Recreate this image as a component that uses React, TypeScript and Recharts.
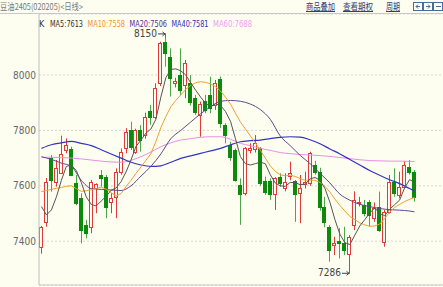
import { ComposedChart, Bar, Line, XAxis, YAxis, CartesianGrid, ReferenceLine, ReferenceDot } from "recharts";

// daily candles, oldest first
const opens = [
  7380, 7470, 7699, 7615, 7647, 7729, 7732, 7611, 7557, 7458,
  7450, 7591, 7639, 7633, 7543, 7561, 7649, 7735, 7801, 7723,
  7801, 7783, 7871, 7847, 7970, 8120, 8066, 7972, 8000, 7964,
  7970, 7916, 7856, 7907, 7928, 7892, 7984, 7820, 7747, 7729,
  7603, 7573, 7729, 7732, 7735, 7618, 7618, 7570, 7631, 7591,
  7635, 7618, 7573, 7605, 7609, 7675, 7651, 7525, 7450, 7386,
  7401, 7394, 7354, 7458, 7537, 7531, 7543, 7483, 7525, 7398,
  7507, 7615, 7567, 7597, 7669, 7651,
];
const highs = [
  7455, 7628, 7711, 7693, 7781, 7771, 7741, 7639, 7573, 7477,
  7621, 7609, 7657, 7639, 7573, 7663, 7735, 7808, 7831, 7806,
  7819, 7864, 7892, 7970, 8120, 8150, 8096, 7990, 8096, 8054,
  8000, 7928, 7904, 7928, 7994, 7982, 7994, 7826, 7759, 7735,
  7627, 7740, 7753, 7783, 7740, 7633, 7627, 7631, 7645, 7645,
  7687, 7621, 7639, 7651, 7723, 7690, 7665, 7560, 7458, 7416,
  7447, 7452, 7422, 7580, 7560, 7549, 7549, 7540, 7579, 7513,
  7639, 7663, 7651, 7690, 7693, 7657,
];
const lows = [
  7355, 7452, 7579, 7597, 7645, 7717, 7635, 7530, 7392, 7410,
  7429, 7501, 7597, 7483, 7501, 7483, 7640, 7717, 7729, 7715,
  7723, 7770, 7820, 7840, 7960, 8030, 7922, 7955, 7928, 7916,
  7890, 7856, 7777, 7862, 7862, 7874, 7808, 7753, 7690, 7615,
  7459, 7565, 7717, 7720, 7600, 7567, 7549, 7513, 7597, 7580,
  7620, 7470, 7465, 7590, 7600, 7640, 7510, 7450, 7326, 7350,
  7338, 7350, 7286, 7440, 7525, 7490, 7453, 7470, 7434, 7380,
  7500, 7560, 7555, 7590, 7640, 7543,
];
const closes = [
  7450, 7615, 7621, 7663, 7714, 7747, 7639, 7539, 7440, 7431,
  7615, 7605, 7627, 7525, 7557, 7649, 7723, 7795, 7741, 7801,
  7765, 7850, 7847, 7952, 8114, 8080, 7988, 7978, 7946, 8042,
  7904, 7868, 7895, 7874, 7880, 7970, 7826, 7783, 7705, 7621,
  7570, 7735, 7735, 7756, 7611, 7579, 7570, 7627, 7609, 7615,
  7647, 7570, 7591, 7615, 7717, 7651, 7525, 7470, 7368, 7392,
  7392, 7370, 7416, 7549, 7543, 7501, 7494, 7519, 7440, 7506,
  7615, 7575, 7597, 7675, 7651, 7561,
];

// moving averages
const ma5 = [
  7525, 7495, 7513, 7560, 7620, 7670, 7675, 7655, 7612, 7560,
  7533, 7527, 7545, 7562, 7584, 7592, 7615, 7650, 7693, 7742,
  7765, 7790, 7805, 7840, 7920, 7990, 8020, 8022, 8015, 8000,
  7972, 7945, 7920, 7898, 7885, 7896, 7890, 7868, 7833, 7770,
  7705, 7680, 7675, 7680, 7685, 7680, 7640, 7610, 7600, 7598,
  7612, 7612, 7604, 7606, 7625, 7630, 7620, 7590, 7540, 7478,
  7425, 7395, 7388, 7422, 7455, 7478, 7502, 7520, 7500, 7492,
  7515, 7532, 7548, 7592, 7622, 7613,
];
const ma10 = [
  7579, 7583, 7587, 7591, 7594, 7598, 7600, 7590, 7580, 7582,
  7586, 7590, 7595, 7588, 7575, 7563, 7572, 7597, 7620, 7645,
  7668, 7692, 7716, 7760, 7810, 7850, 7885, 7908, 7928, 7948,
  7962, 7972, 7976, 7973, 7968, 7958, 7942, 7920, 7895, 7862,
  7830, 7805, 7780, 7755, 7728, 7700, 7672, 7652, 7640, 7636,
  7638, 7634, 7626, 7620, 7620, 7620, 7612, 7598, 7577, 7552,
  7529, 7509, 7490, 7478, 7466, 7459, 7454, 7455, 7462, 7482,
  7505, 7522, 7533, 7543, 7551, 7558,
];
const ma20 = [
  7705, null, 7695, null, 7682, null, 7670, null, 7620, null,
  7590, null, 7587, null, 7585, null, 7583, null, 7600, null,
  7635, null, 7670, null, 7715, null, 7770, null, 7800, null,
  7830, null, 7860, null, 7885, null, 7905, null, 7908, null,
  7905, null, 7895, null, 7875, null, 7840, null, 7780, null,
  7745, null, 7710, null, 7680, null, 7645, null, 7610, null,
  7570, null, 7548, null, 7533, null, 7525, null, 7518, null,
  7514, null, 7512, null, 7509, 7506,
];
const ma40 = [
  7735, null, 7748, null, 7755, null, 7760, null, 7753, null,
  7745, null, 7730, null, 7715, null, 7700, null, 7685, null,
  7675, null, 7670, null, 7672, null, 7685, null, 7699, null,
  7708, null, 7717, null, 7726, null, 7735, null, 7748, null,
  7759, null, 7763, null, 7765, null, 7770, null, 7775, null,
  7777, null, 7776, null, 7766, null, 7752, null, 7733, null,
  7715, null, 7695, null, 7675, null, 7655, null, 7638, null,
  7622, null, 7608, null, 7590, 7581,
];
const ma60 = [
  7703, null, 7703, null, 7702, null, 7700, null, 7697, null,
  7693, null, 7689, null, 7686, null, 7685, null, 7692, null,
  7705, null, 7722, null, 7741, null, 7755, null, 7765, null,
  7770, null, 7775, null, 7777, null, 7777, null, 7768, null,
  7753, null, 7745, null, 7735, null, 7728, null, 7720, null,
  7716, null, 7713, null, 7711, null, 7709, null, 7706, null,
  7702, null, 7698, null, 7694, null, 7691, null, 7690, null,
  7689, null, 7689, null, 7688, 7688,
];

const yTicks = [7400, 7600, 7800, 8000];
const title = "豆油2405(020205)<日线>";
const links = ["商品叠加", "查看期权", "周期"];

const BG = "#fdfdf0";
const RED = "#e23a3a";
const GREEN = "#0b8a0b";
const GREEN_WICK = "#4aa84a";
const NARROW = "'Liberation Sans Narrow', 'DejaVu Sans Condensed', Arial, sans-serif";

const data = opens.map((o, i) => ({
  i,
  o,
  h: highs[i],
  l: lows[i],
  c: closes[i],
  ma5: ma5[i],
  ma10: ma10[i],
  ma20: ma20[i],
  ma40: ma40[i],
  ma60: ma60[i],
}));

const last = (a: (number | null)[]) => a[a.length - 1];

function Candle(props: any) {
  const { x, y, width, height, payload } = props;
  if (!payload) return null;
  const { o, h, l, c } = payload;
  const top = Math.min(y, y + height);
  const span = Math.abs(height);
  const py = (v: number) => top + ((h - v) / (h - l || 1)) * span;
  const col = Math.floor(x + width / 2);
  const wx = col + 0.5;
  const bTop = Math.round(py(Math.max(o, c)));
  const bBot = Math.max(Math.round(py(Math.min(o, c))), bTop + 1);
  if (c >= o) {
    return (
      <g>
        <line x1={wx} x2={wx} y1={top} y2={bTop} stroke={RED} />
        <line x1={wx} x2={wx} y1={bBot} y2={top + span} stroke={RED} />
        <rect x={col - 1.5} y={bTop + 0.5} width={3} height={bBot - bTop} fill={BG} stroke={RED} />
      </g>
    );
  }
  return (
    <g>
      <line x1={wx} x2={wx} y1={top} y2={top + span} stroke={GREEN_WICK} />
      <rect x={col - 2} y={bTop} width={4} height={bBot - bTop + 1} fill={GREEN} />
    </g>
  );
}

function Extreme(props: any) {
  const { cx, cy, text, up } = props;
  const ax = Math.round(cx);
  return (
    <g>
      <text x={ax - 9} y={cy + 3.5} textAnchor="end" fontSize={10} fill="#444" fontFamily={NARROW}>
        {text}
      </text>
      <path d={`M${ax - 8} ${cy + 0.5} H${ax - 1}`} stroke="#444" fill="none" />
      <path d={`M${ax - 3.5} ${cy - 1.5} L${ax - 1} ${cy + 0.5} L${ax - 3.5} ${cy + 2.5}`} stroke="#444" fill="none" />
      <path d={up ? `M${ax - 0.5} ${cy} V${cy + 4}` : `M${ax - 0.5} ${cy + 1} V${cy - 3}`} stroke="#2a9a2a" fill="none" />
    </g>
  );
}

function Header() {
  const maItems = [
    { t: `MA5:${last(ma5)}`, x: 50, w: 33, c: "#333" },
    { t: `MA10:${last(ma10)}`, x: 87.5, w: 37.5, c: "#f0962a" },
    { t: `MA20:${last(ma20)}`, x: 129.5, w: 37.5, c: "#5a2d91" },
    { t: `MA40:${last(ma40)}`, x: 171.5, w: 37, c: "#3030b8" },
    { t: `MA60:${last(ma60)}`, x: 213, w: 39, c: "#f0a0f0" },
  ];
  const linkPos = [
    { x: 306, w: 29 },
    { x: 343, w: 30 },
    { x: 386, w: 14 },
  ];
  return (
    <svg width={443} height={30} style={{ position: "absolute", left: 0, top: 0, pointerEvents: "none" }}>
      <text x={0} y={10} fontSize={9} fill="#7a7a7a" fontFamily="'Noto Sans CJK SC', sans-serif" textLength={83} lengthAdjust="spacingAndGlyphs">
        {title}
      </text>
      {links.map((t, i) => (
        <g key={t}>
          <text x={linkPos[i].x} y={10} fontSize={9.5} fill="#2b3f7a" fontFamily="'Noto Sans CJK SC', sans-serif" textLength={linkPos[i].w} lengthAdjust="spacingAndGlyphs">
            {t}
          </text>
          <line x1={linkPos[i].x} x2={linkPos[i].x + linkPos[i].w} y1={11.5} y2={11.5} stroke="#2b3f7a" />
        </g>
      ))}
      {[413, 423, 433].map((bx, i) => (
        <g key={bx}>
          <rect x={bx + 0.5} y={2.5} width={9} height={8} fill="none" stroke="#4a6aa0" />
          {i === 0 && <path d={`M${bx + 7} 6.5 H${bx + 3} M${bx + 5} 4.5 L${bx + 3} 6.5 L${bx + 5} 8.5`} stroke="#4a6aa0" fill="none" />}
          {i === 1 && <path d={`M${bx + 3} 6.5 H${bx + 7} M${bx + 5} 4.5 L${bx + 7} 6.5 L${bx + 5} 8.5`} stroke="#4a6aa0" fill="none" />}
          {i === 2 && <path d={`M${bx + 3} 6.5 H${bx + 8}`} stroke="#4a6aa0" fill="none" />}
        </g>
      ))}
      <line x1={0} x2={443} y1={13.5} y2={13.5} stroke="#c8c8c8" />
      <text x={39} y={26.5} fontSize={9} fill="#333" fontFamily={NARROW}>
        K
      </text>
      {maItems.map((m) => (
        <text key={m.t} x={m.x} y={26.5} fontSize={8.5} fill={m.c} fontFamily={NARROW} textLength={m.w} lengthAdjust="spacingAndGlyphs">
          {m.t}
        </text>
      ))}
    </svg>
  );
}

export default function App() {
  return (
    <div style={{ position: "absolute", left: 0, top: 0, width: 443, height: 287, background: BG, overflow: "hidden" }}>
      <ComposedChart width={443} height={287} data={data} margin={{ top: 14, right: 0, bottom: 2, left: 0 }}>
        <CartesianGrid horizontal vertical={false} stroke="#d6d6d6" strokeDasharray="2 2" />
        <XAxis dataKey="i" hide padding={{ left: 0, right: 26 }} />
        <YAxis
          domain={[7242, 8220]}
          ticks={yTicks}
          width={39}
          allowDataOverflow
          tickLine={false}
          tickSize={0}
          tickMargin={3}
          axisLine={{ stroke: "#c0c0c0" }}
          tick={{ fontSize: 10, fill: "#666", fontFamily: NARROW }}
        />
        <ReferenceLine y={7242} stroke="#c8c8c8" />
        <Bar dataKey={(d: any) => [d.l, d.h]} shape={(p: any) => <Candle {...p} />} isAnimationActive={false} />
        <Line dataKey="ma60" stroke="#e88ee8" strokeWidth={1} dot={false} type="monotone" connectNulls isAnimationActive={false} />
        <Line dataKey="ma40" stroke="#3434c4" strokeWidth={1.2} dot={false} type="monotone" connectNulls isAnimationActive={false} />
        <Line dataKey="ma20" stroke="#5e4a8e" strokeWidth={1} dot={false} type="monotone" connectNulls isAnimationActive={false} />
        <Line dataKey="ma10" stroke="#f0a033" strokeWidth={1} dot={false} type="linear" isAnimationActive={false} />
        <Line dataKey="ma5" stroke="#555" strokeWidth={1} dot={false} type="linear" isAnimationActive={false} />
        <ReferenceDot x={25} y={8150} r={0} shape={(p: any) => <Extreme {...p} text="8150" up />} />
        <ReferenceDot x={62} y={7286} r={0} shape={(p: any) => <Extreme {...p} text="7286" />} />
      </ComposedChart>
      <Header />
    </div>
  );
}
